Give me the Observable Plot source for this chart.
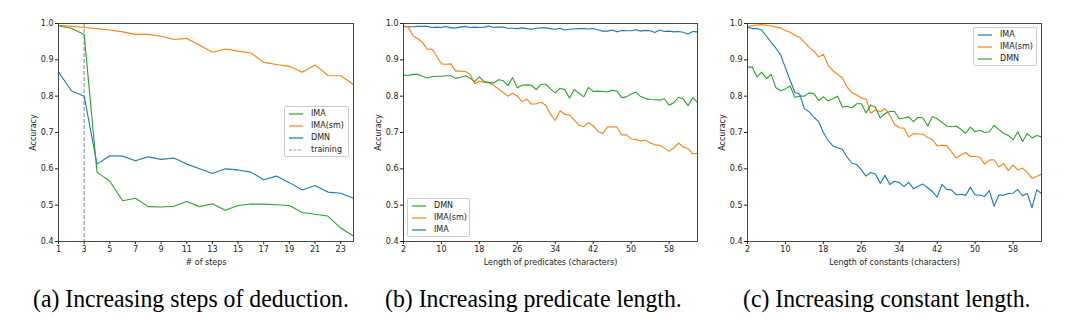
<!DOCTYPE html>
<html><head><meta charset="utf-8">
<script src="https://cdn.jsdelivr.net/npm/d3@7"></script>
<script src="https://cdn.jsdelivr.net/npm/@observablehq/plot@0.6"></script>
<style>
body{margin:0;background:#fff;}
#root{position:relative;width:1076px;height:330px;overflow:hidden;background:#fff;}
.panel{position:absolute;top:0;}
.legend{position:absolute;border:1px solid #ccc;border-radius:2px;background:rgba(255,255,255,0.85);font:8px "DejaVu Sans";color:#222;box-sizing:border-box;}
.legend .row{position:absolute;left:0;height:10px;white-space:nowrap;}
.legend .row svg{position:absolute;left:3px;top:0;}
.legend .row span{position:absolute;top:0px;}
.cap{position:absolute;top:285px;font:25px "Liberation Serif";color:#000;white-space:nowrap;line-height:28px;transform:scaleX(0.95);transform-origin:left center;}
</style></head><body><div id="root"></div>
<script>
// ---- data ----
const steps = [1,2,3,4,5,6,7,8,9,10,11,12,13,14,15,16,17,18,19,20,21,22,23,24];
const stepsIMA   = [0.993,0.987,0.970,0.591,0.566,0.512,0.519,0.496,0.495,0.497,0.510,0.496,0.504,0.486,0.499,0.503,0.503,0.501,0.499,0.480,0.475,0.470,0.437,0.415];
const stepsIMAsm = [0.995,0.992,0.989,0.986,0.982,0.977,0.970,0.970,0.965,0.956,0.959,0.940,0.921,0.930,0.924,0.919,0.893,0.887,0.882,0.866,0.886,0.857,0.856,0.832];
const stepsDMN   = [0.867,0.815,0.800,0.613,0.636,0.635,0.622,0.633,0.626,0.630,0.613,0.600,0.587,0.600,0.597,0.591,0.570,0.580,0.562,0.542,0.554,0.536,0.533,0.519];
const trainingSteps = [3];

const lengths = [2,3,4,5,6,7,8,9,10,11,12,13,14,15,16,17,18,19,20,21,22,23,24,25,26,27,28,29,30,31,32,33,34,35,36,37,38,39,40,41,42,43,44,45,46,47,48,49,50,51,52,53,54,55,56,57,58,59,60,61,62,63,64];

const predIMA = [0.991,0.991,0.991,0.992,0.992,0.992,0.989,0.990,0.989,0.992,0.988,0.988,0.990,0.992,0.989,0.990,0.989,0.990,0.993,0.989,0.990,0.990,0.987,0.987,0.986,0.988,0.986,0.984,0.987,0.988,0.988,0.986,0.984,0.987,0.982,0.984,0.985,0.986,0.986,0.985,0.986,0.983,0.979,0.979,0.982,0.977,0.981,0.980,0.980,0.983,0.979,0.981,0.980,0.975,0.982,0.978,0.979,0.977,0.978,0.976,0.971,0.978,0.977];
const predIMAsm = [0.994,0.990,0.966,0.958,0.948,0.929,0.930,0.910,0.889,0.888,0.889,0.869,0.869,0.868,0.861,0.835,0.842,0.838,0.837,0.830,0.820,0.810,0.800,0.808,0.800,0.785,0.792,0.778,0.779,0.783,0.775,0.750,0.733,0.760,0.750,0.748,0.735,0.720,0.716,0.727,0.718,0.703,0.697,0.715,0.716,0.715,0.693,0.694,0.682,0.681,0.677,0.679,0.672,0.666,0.665,0.657,0.648,0.658,0.671,0.660,0.656,0.641,0.643];
const predDMN = [0.858,0.857,0.860,0.860,0.855,0.850,0.854,0.855,0.855,0.856,0.856,0.849,0.852,0.856,0.850,0.840,0.853,0.840,0.838,0.836,0.845,0.843,0.829,0.851,0.823,0.830,0.831,0.830,0.818,0.833,0.833,0.820,0.809,0.822,0.818,0.795,0.818,0.808,0.798,0.824,0.813,0.814,0.813,0.812,0.816,0.814,0.796,0.798,0.806,0.811,0.799,0.794,0.791,0.790,0.789,0.793,0.775,0.782,0.797,0.792,0.774,0.796,0.783];

const constIMA = [0.990,0.986,0.986,0.982,0.965,0.948,0.932,0.913,0.878,0.843,0.810,0.806,0.765,0.757,0.742,0.730,0.700,0.678,0.663,0.658,0.654,0.632,0.616,0.612,0.597,0.580,0.590,0.585,0.560,0.582,0.557,0.566,0.562,0.551,0.563,0.545,0.552,0.558,0.548,0.537,0.522,0.557,0.544,0.542,0.528,0.530,0.527,0.549,0.528,0.528,0.524,0.540,0.497,0.528,0.527,0.532,0.533,0.543,0.526,0.532,0.493,0.542,0.532];
const constIMAsm = [0.992,0.994,0.996,0.997,0.995,0.993,0.990,0.988,0.980,0.976,0.967,0.962,0.948,0.935,0.924,0.908,0.915,0.885,0.870,0.860,0.850,0.825,0.810,0.803,0.795,0.792,0.753,0.762,0.757,0.766,0.748,0.722,0.713,0.712,0.688,0.697,0.696,0.695,0.686,0.680,0.663,0.665,0.664,0.647,0.630,0.638,0.645,0.634,0.634,0.632,0.613,0.624,0.625,0.605,0.615,0.595,0.610,0.597,0.602,0.590,0.574,0.579,0.586];
const constDMN = [0.880,0.880,0.853,0.866,0.848,0.860,0.823,0.815,0.820,0.828,0.797,0.800,0.800,0.809,0.807,0.788,0.798,0.787,0.793,0.800,0.770,0.772,0.768,0.779,0.779,0.754,0.776,0.769,0.740,0.752,0.758,0.758,0.738,0.740,0.743,0.730,0.742,0.740,0.718,0.744,0.738,0.728,0.718,0.716,0.718,0.709,0.698,0.715,0.702,0.706,0.700,0.702,0.720,0.708,0.698,0.692,0.680,0.702,0.675,0.697,0.685,0.692,0.688];

const yTicks = [0.4,0.5,0.6,0.7,0.8,0.9,1.0];
const stepTicks = [1,3,5,7,9,11,13,15,17,19,21,23];
const lengthTicks = [2,10,18,26,34,42,50,58];

const BLUE = "#1f77b4", ORANGE = "#ff7f0e", GREEN = "#2ca02c", GRAY = "#999";

const root = document.getElementById("root");

function panel({left, marginRight, xDomain, xTicks, xLabel, series, rules}) {
  const marks = [
    Plot.axisY({ticks: yTicks, tickFormat: d3.format(".1f"), tickSize: 3, tickPadding: 2,
      label: "Accuracy", labelAnchor: "center", labelArrow: "none", labelOffset: 28}),
    Plot.axisX({ticks: xTicks, tickSize: 3, tickPadding: 2,
      label: xLabel, labelAnchor: "center", labelArrow: "none", labelOffset: 23}),
  ];
  if (rules) marks.push(Plot.ruleX(rules, {stroke: GRAY, strokeWidth: 1.2, strokeDasharray: "4,2"}));
  for (const s of series) {
    marks.push(Plot.line(s.xs.map((x, i) => [x, s.ys[i]]), {stroke: s.color, strokeWidth: 1.1}));
  }
  marks.push(Plot.frame({stroke: "#333", strokeWidth: 0.9}));
  const chart = Plot.plot({
    width: 360, height: 270,
    marginLeft: 58, marginRight, marginTop: 23, marginBottom: 29,
    style: {fontFamily: "DejaVu Sans", fontSize: "8px", color: "#222", background: "transparent"},
    x: {domain: xDomain},
    y: {domain: [0.4, 1.0]},
    marks
  });
  const div = document.createElement("div");
  div.className = "panel";
  div.style.left = left + "px";
  div.appendChild(chart);
  root.appendChild(div);
}

function legend({left, top, width, height, items}) {
  const box = document.createElement("div");
  box.className = "legend";
  Object.assign(box.style, {left: left + "px", top: top + "px", width: width + "px", height: height + "px"});
  items.forEach((it, i) => {
    const row = document.createElement("div");
    row.className = "row";
    row.style.top = (2 + i * 12) + "px";
    row.innerHTML = `<svg width="16" height="10"><line x1="1" x2="15" y1="5" y2="5" stroke="${it.color}" stroke-width="1.2" ${it.dash ? 'stroke-dasharray="3,1.5"' : ''}/></svg><span style="left:26px">${it.label}</span>`;
    box.appendChild(row);
  });
  root.appendChild(box);
}

panel({left: 0, marginRight: 7, xDomain: [1, 24], xTicks: stepTicks, xLabel: "# of steps",
  rules: trainingSteps,
  series: [
    {xs: steps, ys: stepsIMAsm, color: ORANGE},
    {xs: steps, ys: stepsDMN, color: BLUE},
    {xs: steps, ys: stepsIMA, color: GREEN},
  ]});
panel({left: 345, marginRight: 8, xDomain: [2, 64], xTicks: lengthTicks, xLabel: "Length of predicates (characters)",
  series: [
    {xs: lengths, ys: predIMA, color: BLUE},
    {xs: lengths, ys: predIMAsm, color: ORANGE},
    {xs: lengths, ys: predDMN, color: GREEN},
  ]});
panel({left: 689, marginRight: 8, xDomain: [2, 64], xTicks: lengthTicks, xLabel: "Length of constants (characters)",
  series: [
    {xs: lengths, ys: constIMA, color: BLUE},
    {xs: lengths, ys: constIMAsm, color: ORANGE},
    {xs: lengths, ys: constDMN, color: GREEN},
  ]});

legend({left: 284, top: 106, width: 65, height: 51, items: [
  {label: "IMA", color: GREEN}, {label: "IMA(sm)", color: ORANGE},
  {label: "DMN", color: BLUE}, {label: "training", color: GRAY, dash: true}]});
legend({left: 407, top: 198, width: 63, height: 39, items: [
  {label: "DMN", color: GREEN}, {label: "IMA(sm)", color: ORANGE}, {label: "IMA", color: BLUE}]});
legend({left: 973, top: 27, width: 64, height: 39, items: [
  {label: "IMA", color: BLUE}, {label: "IMA(sm)", color: ORANGE}, {label: "DMN", color: GREEN}]});

const captions = [
  {left: 33, text: "(a) Increasing steps of deduction."},
  {left: 385, text: "(b) Increasing predicate length."},
  {left: 743, text: "(c) Increasing constant length."},
];
for (const c of captions) {
  const d = document.createElement("div");
  d.className = "cap";
  d.style.left = c.left + "px";
  d.textContent = c.text;
  root.appendChild(d);
}
</script></body></html>
